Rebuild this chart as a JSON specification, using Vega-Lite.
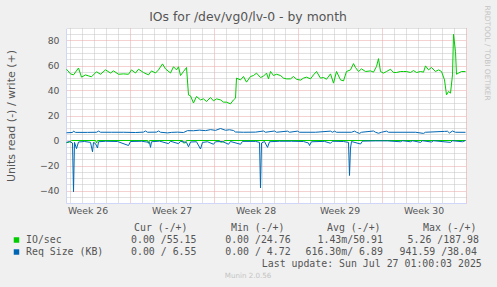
{
  "$schema": "https://vega.github.io/schema/vega-lite/v6.json",
  "width": 400,
  "height": 175,
  "autosize": {"type": "none"},
  "padding": {"left": 66, "top": 28, "right": 31, "bottom": 84},
  "background": "#F0F0F0",
  "view": {"fill": "#FFFFFF", "stroke": null},
  "title": {"text": "IOs for /dev/vg0/lv-0 - by month", "font": "DejaVu Sans", "fontSize": 12.4, "fontWeight": "normal", "color": "#555555", "anchor": "middle", "frame": "group", "dx": -18, "offset": -18},
  "config": {
    "axis": {"labelFont": "DejaVu Sans", "titleFont": "DejaVu Sans", "labelColor": "#555555", "titleColor": "#555555", "titleFontWeight": "normal", "labelFontSize": 9.3}
  },
  "datasets": {
    "io_w": [
      {"t": "2025-06-23T18:00:00Z", "v": 57}, {"t": "2025-06-24T02:00:00Z", "v": 53.3}, {"t": "2025-06-24T08:00:00Z", "v": 52.5}, {"t": "2025-06-24T18:00:00Z", "v": 58},
      {"t": "2025-06-25T00:00:00Z", "v": 50.7}, {"t": "2025-06-25T08:00:00Z", "v": 52.5}, {"t": "2025-06-25T14:00:00Z", "v": 51.7}, {"t": "2025-06-25T20:00:00Z", "v": 51},
      {"t": "2025-06-26T06:00:00Z", "v": 55}, {"t": "2025-06-26T14:00:00Z", "v": 53}, {"t": "2025-06-27T00:00:00Z", "v": 56.5}, {"t": "2025-06-27T10:00:00Z", "v": 54},
      {"t": "2025-06-27T16:00:00Z", "v": 55.7}, {"t": "2025-06-28T02:00:00Z", "v": 53}, {"t": "2025-06-28T12:00:00Z", "v": 53.3}, {"t": "2025-06-28T22:00:00Z", "v": 53},
      {"t": "2025-06-29T04:00:00Z", "v": 56.5}, {"t": "2025-06-29T12:00:00Z", "v": 54}, {"t": "2025-06-29T18:00:00Z", "v": 57}, {"t": "2025-06-30T04:00:00Z", "v": 54.4},
      {"t": "2025-06-30T14:00:00Z", "v": 52.5}, {"t": "2025-06-30T20:00:00Z", "v": 55.7}, {"t": "2025-07-01T04:00:00Z", "v": 54}, {"t": "2025-07-01T10:00:00Z", "v": 56.5},
      {"t": "2025-07-01T18:00:00Z", "v": 61.3}, {"t": "2025-07-02T00:00:00Z", "v": 57.3}, {"t": "2025-07-02T10:00:00Z", "v": 54}, {"t": "2025-07-02T16:00:00Z", "v": 59},
      {"t": "2025-07-02T22:00:00Z", "v": 56.5}, {"t": "2025-07-03T02:00:00Z", "v": 59}, {"t": "2025-07-03T06:00:00Z", "v": 52}, {"t": "2025-07-03T12:00:00Z", "v": 55.2},
      {"t": "2025-07-03T18:00:00Z", "v": 58.4}, {"t": "2025-07-03T22:00:00Z", "v": 36.5}, {"t": "2025-07-04T02:00:00Z", "v": 35.7}, {"t": "2025-07-04T08:00:00Z", "v": 30},
      {"t": "2025-07-04T14:00:00Z", "v": 35.2}, {"t": "2025-07-04T22:00:00Z", "v": 32.5}, {"t": "2025-07-05T04:00:00Z", "v": 33.3}, {"t": "2025-07-05T10:00:00Z", "v": 31.2},
      {"t": "2025-07-05T18:00:00Z", "v": 34.4}, {"t": "2025-07-06T00:00:00Z", "v": 31.7}, {"t": "2025-07-06T06:00:00Z", "v": 33.3}, {"t": "2025-07-06T14:00:00Z", "v": 32.5},
      {"t": "2025-07-06T20:00:00Z", "v": 30.7}, {"t": "2025-07-07T02:00:00Z", "v": 30.7}, {"t": "2025-07-07T10:00:00Z", "v": 29.3}, {"t": "2025-07-07T16:00:00Z", "v": 32.5},
      {"t": "2025-07-07T20:00:00Z", "v": 33.9}, {"t": "2025-07-07T22:00:00Z", "v": 49.9}, {"t": "2025-07-08T06:00:00Z", "v": 48.5}, {"t": "2025-07-08T12:00:00Z", "v": 51.2},
      {"t": "2025-07-08T18:00:00Z", "v": 46.7}, {"t": "2025-07-09T02:00:00Z", "v": 51.2}, {"t": "2025-07-09T08:00:00Z", "v": 52}, {"t": "2025-07-09T14:00:00Z", "v": 53.9},
      {"t": "2025-07-09T22:00:00Z", "v": 50.4}, {"t": "2025-07-10T04:00:00Z", "v": 51.5}, {"t": "2025-07-10T10:00:00Z", "v": 53.9}, {"t": "2025-07-10T14:00:00Z", "v": 49.3},
      {"t": "2025-07-10T18:00:00Z", "v": 55.2}, {"t": "2025-07-11T00:00:00Z", "v": 52}, {"t": "2025-07-11T06:00:00Z", "v": 53}, {"t": "2025-07-11T14:00:00Z", "v": 52},
      {"t": "2025-07-11T20:00:00Z", "v": 49.9}, {"t": "2025-07-12T02:00:00Z", "v": 49.3}, {"t": "2025-07-12T10:00:00Z", "v": 49.3}, {"t": "2025-07-12T16:00:00Z", "v": 51.2},
      {"t": "2025-07-12T22:00:00Z", "v": 49}, {"t": "2025-07-13T06:00:00Z", "v": 48.3}, {"t": "2025-07-13T12:00:00Z", "v": 49.9}, {"t": "2025-07-13T18:00:00Z", "v": 50.7},
      {"t": "2025-07-14T02:00:00Z", "v": 49.3}, {"t": "2025-07-14T08:00:00Z", "v": 52.5}, {"t": "2025-07-14T14:00:00Z", "v": 55.2}, {"t": "2025-07-14T22:00:00Z", "v": 49.9},
      {"t": "2025-07-15T04:00:00Z", "v": 50.4}, {"t": "2025-07-15T10:00:00Z", "v": 49}, {"t": "2025-07-15T18:00:00Z", "v": 53.3}, {"t": "2025-07-16T00:00:00Z", "v": 45.9},
      {"t": "2025-07-16T06:00:00Z", "v": 55.2}, {"t": "2025-07-16T14:00:00Z", "v": 48.5}, {"t": "2025-07-16T20:00:00Z", "v": 47.7}, {"t": "2025-07-17T02:00:00Z", "v": 55.2},
      {"t": "2025-07-17T10:00:00Z", "v": 56.5}, {"t": "2025-07-17T16:00:00Z", "v": 61.5}, {"t": "2025-07-17T20:00:00Z", "v": 58.4}, {"t": "2025-07-18T02:00:00Z", "v": 55.2},
      {"t": "2025-07-18T08:00:00Z", "v": 57.3}, {"t": "2025-07-18T16:00:00Z", "v": 55.2}, {"t": "2025-07-19T02:00:00Z", "v": 55.7}, {"t": "2025-07-19T08:00:00Z", "v": 54.7},
      {"t": "2025-07-19T14:00:00Z", "v": 59.2}, {"t": "2025-07-19T18:00:00Z", "v": 65.5}, {"t": "2025-07-19T22:00:00Z", "v": 55.2}, {"t": "2025-07-20T04:00:00Z", "v": 53.9},
      {"t": "2025-07-20T10:00:00Z", "v": 55.2}, {"t": "2025-07-20T18:00:00Z", "v": 57}, {"t": "2025-07-21T00:00:00Z", "v": 54.4}, {"t": "2025-07-21T06:00:00Z", "v": 54.4},
      {"t": "2025-07-21T14:00:00Z", "v": 55.2}, {"t": "2025-07-21T20:00:00Z", "v": 55.2}, {"t": "2025-07-22T02:00:00Z", "v": 55.2}, {"t": "2025-07-22T10:00:00Z", "v": 54.4},
      {"t": "2025-07-22T16:00:00Z", "v": 56}, {"t": "2025-07-22T22:00:00Z", "v": 54.4}, {"t": "2025-07-23T06:00:00Z", "v": 55.2}, {"t": "2025-07-23T12:00:00Z", "v": 54.7},
      {"t": "2025-07-23T16:00:00Z", "v": 59.7}, {"t": "2025-07-23T22:00:00Z", "v": 56.5}, {"t": "2025-07-24T04:00:00Z", "v": 58.4}, {"t": "2025-07-24T12:00:00Z", "v": 55.2},
      {"t": "2025-07-24T18:00:00Z", "v": 56.5}, {"t": "2025-07-25T00:00:00Z", "v": 55.2}, {"t": "2025-07-25T06:00:00Z", "v": 48.5}, {"t": "2025-07-25T10:00:00Z", "v": 36.5},
      {"t": "2025-07-25T14:00:00Z", "v": 39.2}, {"t": "2025-07-25T18:00:00Z", "v": 37.9}, {"t": "2025-07-25T22:00:00Z", "v": 52.5}, {"t": "2025-07-26T00:00:00Z", "v": 85},
      {"t": "2025-07-26T04:00:00Z", "v": 71}, {"t": "2025-07-26T06:00:00Z", "v": 53}, {"t": "2025-07-26T10:00:00Z", "v": 53.9}, {"t": "2025-07-26T16:00:00Z", "v": 55.2},
      {"t": "2025-07-27T00:00:00Z", "v": 55.15}
    ],
    "io_r": [
      {"t": "2025-06-23T18:00:00Z", "v": -1.8}, {"t": "2025-06-24T00:00:00Z", "v": -1.2}, {"t": "2025-06-24T04:00:00Z", "v": 0}, {"t": "2025-06-26T04:00:00Z", "v": 0},
      {"t": "2025-06-26T06:00:00Z", "v": -2}, {"t": "2025-06-26T08:00:00Z", "v": 0}, {"t": "2025-06-30T12:00:00Z", "v": 0}, {"t": "2025-06-30T14:00:00Z", "v": -2.3},
      {"t": "2025-06-30T16:00:00Z", "v": 0}, {"t": "2025-07-03T10:00:00Z", "v": 0}, {"t": "2025-07-03T12:00:00Z", "v": -2}, {"t": "2025-07-03T16:00:00Z", "v": -1.8},
      {"t": "2025-07-03T18:00:00Z", "v": 0}, {"t": "2025-07-06T12:00:00Z", "v": 0}, {"t": "2025-07-06T14:00:00Z", "v": -1.3}, {"t": "2025-07-06T20:00:00Z", "v": -1.2},
      {"t": "2025-07-06T22:00:00Z", "v": 0}, {"t": "2025-07-27T00:00:00Z", "v": 0}
    ],
    "req_w": [
      {"t": "2025-06-23T18:00:00Z", "v": 6.2}, {"t": "2025-06-24T06:00:00Z", "v": 6.4}, {"t": "2025-06-24T08:00:00Z", "v": 7.5}, {"t": "2025-06-24T12:00:00Z", "v": 6.5},
      {"t": "2025-06-25T12:00:00Z", "v": 6.5}, {"t": "2025-06-26T06:00:00Z", "v": 6.6}, {"t": "2025-06-26T10:00:00Z", "v": 7.5}, {"t": "2025-06-26T14:00:00Z", "v": 6.6},
      {"t": "2025-06-27T12:00:00Z", "v": 6.6}, {"t": "2025-06-28T12:00:00Z", "v": 6.6}, {"t": "2025-06-29T12:00:00Z", "v": 6.4}, {"t": "2025-06-30T04:00:00Z", "v": 6.7},
      {"t": "2025-06-30T08:00:00Z", "v": 7.6}, {"t": "2025-06-30T12:00:00Z", "v": 6.6}, {"t": "2025-07-01T06:00:00Z", "v": 6.7}, {"t": "2025-07-01T10:00:00Z", "v": 7.6},
      {"t": "2025-07-01T14:00:00Z", "v": 6.6}, {"t": "2025-07-02T04:00:00Z", "v": 6.1}, {"t": "2025-07-02T12:00:00Z", "v": 6.5}, {"t": "2025-07-03T00:00:00Z", "v": 6.7},
      {"t": "2025-07-03T12:00:00Z", "v": 6.4}, {"t": "2025-07-03T20:00:00Z", "v": 7.9}, {"t": "2025-07-04T08:00:00Z", "v": 7.8}, {"t": "2025-07-04T20:00:00Z", "v": 8.3},
      {"t": "2025-07-05T08:00:00Z", "v": 7.9}, {"t": "2025-07-05T18:00:00Z", "v": 8.7}, {"t": "2025-07-06T04:00:00Z", "v": 8.1}, {"t": "2025-07-06T14:00:00Z", "v": 9.6},
      {"t": "2025-07-07T00:00:00Z", "v": 8.2}, {"t": "2025-07-07T08:00:00Z", "v": 8.6}, {"t": "2025-07-07T16:00:00Z", "v": 8}, {"t": "2025-07-07T20:00:00Z", "v": 6.8},
      {"t": "2025-07-08T12:00:00Z", "v": 6.6}, {"t": "2025-07-09T12:00:00Z", "v": 6.7}, {"t": "2025-07-10T04:00:00Z", "v": 7.6}, {"t": "2025-07-10T08:00:00Z", "v": 6.6},
      {"t": "2025-07-11T02:00:00Z", "v": 7.6}, {"t": "2025-07-11T06:00:00Z", "v": 6.6}, {"t": "2025-07-12T04:00:00Z", "v": 7.5}, {"t": "2025-07-12T08:00:00Z", "v": 6.6},
      {"t": "2025-07-13T00:00:00Z", "v": 7.5}, {"t": "2025-07-13T04:00:00Z", "v": 6.6}, {"t": "2025-07-14T12:00:00Z", "v": 6.6}, {"t": "2025-07-15T18:00:00Z", "v": 7.5},
      {"t": "2025-07-15T22:00:00Z", "v": 6.6}, {"t": "2025-07-16T02:00:00Z", "v": 7.5}, {"t": "2025-07-16T06:00:00Z", "v": 6.6}, {"t": "2025-07-17T12:00:00Z", "v": 6.6},
      {"t": "2025-07-17T18:00:00Z", "v": 7.5}, {"t": "2025-07-17T22:00:00Z", "v": 6.6}, {"t": "2025-07-18T04:00:00Z", "v": 5.7}, {"t": "2025-07-18T08:00:00Z", "v": 6.6},
      {"t": "2025-07-19T08:00:00Z", "v": 7.6}, {"t": "2025-07-19T12:00:00Z", "v": 6.6}, {"t": "2025-07-19T18:00:00Z", "v": 5.8}, {"t": "2025-07-20T00:00:00Z", "v": 6.6},
      {"t": "2025-07-20T10:00:00Z", "v": 7.5}, {"t": "2025-07-20T14:00:00Z", "v": 6.6}, {"t": "2025-07-22T20:00:00Z", "v": 6.6}, {"t": "2025-07-23T12:00:00Z", "v": 5.7},
      {"t": "2025-07-23T16:00:00Z", "v": 6.6}, {"t": "2025-07-25T06:00:00Z", "v": 7.3}, {"t": "2025-07-25T12:00:00Z", "v": 7.4}, {"t": "2025-07-25T16:00:00Z", "v": 6},
      {"t": "2025-07-25T22:00:00Z", "v": 7.6}, {"t": "2025-07-26T04:00:00Z", "v": 6.6}, {"t": "2025-07-27T00:00:00Z", "v": 6.55}
    ],
    "req_r": [
      {"t": "2025-06-23T18:00:00Z", "v": -1.5}, {"t": "2025-06-24T00:00:00Z", "v": -0.8}, {"t": "2025-06-24T06:00:00Z", "v": -2}, {"t": "2025-06-24T08:00:00Z", "v": -41},
      {"t": "2025-06-24T10:00:00Z", "v": -1.5}, {"t": "2025-06-24T14:00:00Z", "v": -6.5}, {"t": "2025-06-24T18:00:00Z", "v": -1.2}, {"t": "2025-06-25T06:00:00Z", "v": -0.8},
      {"t": "2025-06-25T18:00:00Z", "v": -1.5}, {"t": "2025-06-25T22:00:00Z", "v": -9}, {"t": "2025-06-26T00:00:00Z", "v": -1.5}, {"t": "2025-06-26T04:00:00Z", "v": -2.5},
      {"t": "2025-06-26T08:00:00Z", "v": -6}, {"t": "2025-06-26T10:00:00Z", "v": -1}, {"t": "2025-06-27T00:00:00Z", "v": -0.6}, {"t": "2025-06-28T00:00:00Z", "v": -0.8},
      {"t": "2025-06-28T22:00:00Z", "v": -4}, {"t": "2025-06-29T02:00:00Z", "v": -0.8}, {"t": "2025-06-30T00:00:00Z", "v": -0.6}, {"t": "2025-06-30T16:00:00Z", "v": -1.5},
      {"t": "2025-06-30T18:00:00Z", "v": -5.5}, {"t": "2025-06-30T20:00:00Z", "v": -1}, {"t": "2025-07-01T12:00:00Z", "v": -0.5}, {"t": "2025-07-02T06:00:00Z", "v": -2.5},
      {"t": "2025-07-02T10:00:00Z", "v": -0.6}, {"t": "2025-07-03T02:00:00Z", "v": -2.5}, {"t": "2025-07-03T06:00:00Z", "v": -0.7}, {"t": "2025-07-03T18:00:00Z", "v": -1.5},
      {"t": "2025-07-03T22:00:00Z", "v": -5}, {"t": "2025-07-04T02:00:00Z", "v": -1.2}, {"t": "2025-07-04T14:00:00Z", "v": -1}, {"t": "2025-07-04T22:00:00Z", "v": -6.8},
      {"t": "2025-07-05T02:00:00Z", "v": -1.5}, {"t": "2025-07-05T12:00:00Z", "v": -1}, {"t": "2025-07-06T00:00:00Z", "v": -3}, {"t": "2025-07-06T04:00:00Z", "v": -1},
      {"t": "2025-07-06T18:00:00Z", "v": -0.8}, {"t": "2025-07-07T06:00:00Z", "v": -3}, {"t": "2025-07-07T10:00:00Z", "v": -0.8}, {"t": "2025-07-08T06:00:00Z", "v": -3},
      {"t": "2025-07-08T10:00:00Z", "v": -0.7}, {"t": "2025-07-09T12:00:00Z", "v": -0.7}, {"t": "2025-07-09T20:00:00Z", "v": -1.5}, {"t": "2025-07-09T22:00:00Z", "v": -38},
      {"t": "2025-07-10T00:00:00Z", "v": -2}, {"t": "2025-07-10T06:00:00Z", "v": -0.8}, {"t": "2025-07-10T12:00:00Z", "v": -5.5}, {"t": "2025-07-10T16:00:00Z", "v": -1},
      {"t": "2025-07-11T12:00:00Z", "v": -0.6}, {"t": "2025-07-12T12:00:00Z", "v": -0.6}, {"t": "2025-07-13T12:00:00Z", "v": -0.8}, {"t": "2025-07-13T22:00:00Z", "v": -2},
      {"t": "2025-07-14T00:00:00Z", "v": -4}, {"t": "2025-07-14T04:00:00Z", "v": -1}, {"t": "2025-07-15T06:00:00Z", "v": -0.7}, {"t": "2025-07-15T18:00:00Z", "v": -2.2},
      {"t": "2025-07-15T22:00:00Z", "v": -0.6}, {"t": "2025-07-16T20:00:00Z", "v": -0.8}, {"t": "2025-07-17T06:00:00Z", "v": -1.5}, {"t": "2025-07-17T08:00:00Z", "v": -28},
      {"t": "2025-07-17T10:00:00Z", "v": -6}, {"t": "2025-07-17T12:00:00Z", "v": -0.8}, {"t": "2025-07-18T06:00:00Z", "v": -2.8}, {"t": "2025-07-18T10:00:00Z", "v": -0.5},
      {"t": "2025-07-19T12:00:00Z", "v": -0.3}, {"t": "2025-07-20T12:00:00Z", "v": -0.3}, {"t": "2025-07-21T14:00:00Z", "v": -1}, {"t": "2025-07-21T18:00:00Z", "v": -0.2},
      {"t": "2025-07-22T10:00:00Z", "v": -1}, {"t": "2025-07-22T14:00:00Z", "v": -0.2}, {"t": "2025-07-23T06:00:00Z", "v": -1.5}, {"t": "2025-07-23T10:00:00Z", "v": -0.2},
      {"t": "2025-07-24T04:00:00Z", "v": -1.2}, {"t": "2025-07-24T08:00:00Z", "v": -0.2}, {"t": "2025-07-25T18:00:00Z", "v": -1.5}, {"t": "2025-07-25T22:00:00Z", "v": -0.2},
      {"t": "2025-07-26T18:00:00Z", "v": -1}, {"t": "2025-07-27T00:00:00Z", "v": 0}
    ],
    "swatches": [
      {"col": 2.77, "line": 20, "series": "IO/sec"},
      {"col": 2.77, "line": 21, "series": "Req Size (KB)"}
    ],
    "legend_text": [
      {"col": 22.52, "line": 19, "text": "Cur (-/+)"},
      {"col": 38.82, "line": 19, "text": "Min (-/+)"},
      {"col": 54.96, "line": 19, "text": "Avg (-/+)"},
      {"col": 71.09, "line": 19, "text": "Max (-/+)"},
      {"col": 4.37, "line": 20, "text": "IO/sec"},
      {"col": 22.02, "line": 20, "text": "0.00 /55.15"},
      {"col": 37.85, "line": 20, "text": "0.00 /24.76"},
      {"col": 53.36, "line": 20, "text": "1.43m/50.91"},
      {"col": 68.5, "line": 20, "text": "5.26 /187.98"},
      {"col": 4.37, "line": 21, "text": "Req Size (KB)"},
      {"col": 22.02, "line": 21, "text": "0.00 / 6.55"},
      {"col": 37.85, "line": 21, "text": "0.00 / 4.72"},
      {"col": 51.36, "line": 21, "text": "616.30m/ 6.89"},
      {"col": 67.16, "line": 21, "text": "941.59 /38.04"},
      {"col": 44.0, "line": 22, "text": "Last update: Sun Jul 27 01:00:03 2025"}
    ],
    "watermark": [
      {"col": 41.68, "line": 23, "text": "Munin 2.0.56"}
    ]
  },
  "layer": [
    {
      "layer": [
        {
          "data": {"name": "io_r"},
          "mark": {"type": "line", "color": "#00CC00", "strokeWidth": 1},
          "encoding": {
            "x": {"field": "t", "type": "temporal",
              "scale": {"type": "utc", "domain": [{"year": 2025, "month": 6, "date": 23, "hours": 17, "utc": true}, {"year": 2025, "month": 7, "date": 27, "hours": 1, "utc": true}]},
              "axis": {"orient": "top",
                "values": [{"year": 2025, "month": 6, "date": 24, "utc": true}, {"year": 2025, "month": 6, "date": 25, "utc": true}, {"year": 2025, "month": 6, "date": 26, "utc": true}, {"year": 2025, "month": 6, "date": 27, "utc": true}, {"year": 2025, "month": 6, "date": 28, "utc": true},
                  {"year": 2025, "month": 6, "date": 30, "utc": true}, {"year": 2025, "month": 7, "date": 1, "utc": true}, {"year": 2025, "month": 7, "date": 2, "utc": true}, {"year": 2025, "month": 7, "date": 3, "utc": true}, {"year": 2025, "month": 7, "date": 4, "utc": true}, {"year": 2025, "month": 7, "date": 5, "utc": true},
                  {"year": 2025, "month": 7, "date": 7, "utc": true}, {"year": 2025, "month": 7, "date": 8, "utc": true}, {"year": 2025, "month": 7, "date": 9, "utc": true}, {"year": 2025, "month": 7, "date": 10, "utc": true}, {"year": 2025, "month": 7, "date": 11, "utc": true}, {"year": 2025, "month": 7, "date": 12, "utc": true},
                  {"year": 2025, "month": 7, "date": 14, "utc": true}, {"year": 2025, "month": 7, "date": 15, "utc": true}, {"year": 2025, "month": 7, "date": 16, "utc": true}, {"year": 2025, "month": 7, "date": 17, "utc": true}, {"year": 2025, "month": 7, "date": 18, "utc": true}, {"year": 2025, "month": 7, "date": 19, "utc": true},
                  {"year": 2025, "month": 7, "date": 21, "utc": true}, {"year": 2025, "month": 7, "date": 22, "utc": true}, {"year": 2025, "month": 7, "date": 23, "utc": true}, {"year": 2025, "month": 7, "date": 24, "utc": true}, {"year": 2025, "month": 7, "date": 25, "utc": true}, {"year": 2025, "month": 7, "date": 26, "utc": true}],
                "grid": true, "gridColor": "#C2C2C2", "gridOpacity": 1, "gridDash": [1, 1], "gridWidth": 1, "labels": false, "ticks": false, "domain": false, "title": null}},
            "y": {"field": "v", "type": "quantitative",
              "scale": {"domain": [-50, 90], "nice": false, "zero": false},
              "axis": {"orient": "right", "values": [-45, -35, -30, -25, -15, -10, -5, 5, 10, 15, 25, 30, 35, 45, 50, 55, 65, 70, 75, 85, 90], "grid": true, "gridColor": "#C2C2C2", "gridOpacity": 1, "gridDash": [1, 1], "gridWidth": 1, "labels": false, "ticks": false, "domain": false,
                "title": "RRDTOOL / TOBI OETIKER", "titleAngle": 90, "titleFont": "DejaVu Sans", "titleFontSize": 7.4, "titleColor": "#C4C4C4", "titleX": 20, "titleY": -23, "titleAlign": "left", "titleBaseline": "middle"}}
          }
        },
        {
          "data": {"name": "io_w"},
          "mark": {"type": "line", "color": "#00CC00", "strokeWidth": 1},
          "encoding": {
            "x": {"field": "t", "type": "temporal",
              "scale": {"type": "utc", "domain": [{"year": 2025, "month": 6, "date": 23, "hours": 17, "utc": true}, {"year": 2025, "month": 7, "date": 27, "hours": 1, "utc": true}]},
              "axis": {"orient": "bottom",
                "values": [{"year": 2025, "month": 6, "date": 29, "utc": true}, {"year": 2025, "month": 7, "date": 6, "utc": true}, {"year": 2025, "month": 7, "date": 13, "utc": true}, {"year": 2025, "month": 7, "date": 20, "utc": true}, {"year": 2025, "month": 7, "date": 27, "utc": true}],
                "grid": true, "gridColor": "#EBA5A5", "gridOpacity": 1, "gridDash": [1, 1], "gridWidth": 1, "ticks": false, "domain": true, "domainColor": "#CFD6F8", "domainWidth": 1,
                "labelExpr": "'Week ' + utcFormat(datum.value, '%U')", "labelOffset": -42, "labelPadding": 3, "labelFlush": false, "labelOverlap": false, "labelBound": false, "title": null}},
            "y": {"field": "v", "type": "quantitative",
              "scale": {"domain": [-50, 90], "nice": false, "zero": false},
              "axis": {"orient": "left", "values": [-40, -20, 0, 20, 40, 60, 80], "grid": true, "gridColor": "#EBA5A5", "gridOpacity": 1, "gridDash": [1, 1], "gridWidth": 1, "ticks": false, "domain": true, "domainColor": "#CFD6F8", "domainWidth": 1,
                "labelPadding": 7, "title": "Units read (-) / write (+)", "titleFontSize": 11, "titleX": -55, "titleBaseline": "middle"}}
          }
        },
        {
          "data": {"name": "req_r"},
          "mark": {"type": "line", "color": "#0066B3", "strokeWidth": 1},
          "encoding": {
            "x": {"field": "t", "type": "temporal", "axis": null,
              "scale": {"type": "utc", "domain": [{"year": 2025, "month": 6, "date": 23, "hours": 17, "utc": true}, {"year": 2025, "month": 7, "date": 27, "hours": 1, "utc": true}]}},
            "y": {"field": "v", "type": "quantitative", "axis": null, "scale": {"domain": [-50, 90], "nice": false, "zero": false}}
          }
        },
        {
          "data": {"name": "req_w"},
          "mark": {"type": "line", "color": "#0066B3", "strokeWidth": 1},
          "encoding": {
            "x": {"field": "t", "type": "temporal", "axis": null,
              "scale": {"type": "utc", "domain": [{"year": 2025, "month": 6, "date": 23, "hours": 17, "utc": true}, {"year": 2025, "month": 7, "date": 27, "hours": 1, "utc": true}]}},
            "y": {"field": "v", "type": "quantitative", "axis": null, "scale": {"domain": [-50, 90], "nice": false, "zero": false}}
          }
        },
        {
          "mark": {"type": "rule", "color": "#000000", "strokeWidth": 1},
          "encoding": {
            "y": {"datum": 0, "type": "quantitative", "axis": null, "scale": {"domain": [-50, 90], "nice": false, "zero": false}}
          }
        },
        {
          "mark": {"type": "point", "shape": "triangle-up", "filled": true, "color": "#CFD6F8", "size": 22, "opacity": 1},
          "encoding": {
            "x": {"datum": {"year": 2025, "month": 6, "date": 23, "hours": 17, "utc": true}, "type": "temporal", "axis": null,
              "scale": {"type": "utc", "domain": [{"year": 2025, "month": 6, "date": 23, "hours": 17, "utc": true}, {"year": 2025, "month": 7, "date": 27, "hours": 1, "utc": true}]}},
            "y": {"datum": 93.5, "type": "quantitative", "axis": null, "scale": {"domain": [-50, 90], "nice": false, "zero": false}}
          }
        },
        {
          "mark": {"type": "point", "shape": "triangle-right", "filled": true, "color": "#CFD6F8", "size": 22, "opacity": 1},
          "encoding": {
            "x": {"datum": {"year": 2025, "month": 7, "date": 27, "hours": 9, "utc": true}, "type": "temporal", "axis": null,
              "scale": {"type": "utc", "domain": [{"year": 2025, "month": 6, "date": 23, "hours": 17, "utc": true}, {"year": 2025, "month": 7, "date": 27, "hours": 1, "utc": true}]}},
            "y": {"datum": -50, "type": "quantitative", "axis": null, "scale": {"domain": [-50, 90], "nice": false, "zero": false}}
          }
        }
      ],
      "resolve": {"axis": {"x": "independent", "y": "independent"}}
    },
    {
      "layer": [
        {
          "data": {"name": "swatches"},
          "mark": {"type": "point", "shape": "square", "filled": true, "size": 30, "opacity": 1},
          "encoding": {
            "x": {"field": "col", "type": "quantitative", "axis": null, "scale": {"domain": [11.0924, 78.3193], "nice": false, "zero": false}},
            "y": {"field": "line", "type": "quantitative", "axis": null, "scale": {"domain": [2.3333, 16.9167], "nice": false, "zero": false, "reverse": true}},
            "color": {"field": "series", "type": "nominal", "legend": null, "scale": {"domain": ["IO/sec", "Req Size (KB)"], "range": ["#00CC00", "#0066B3"]}}
          }
        },
        {
          "data": {"name": "legend_text"},
          "mark": {"type": "text", "font": "DejaVu Sans Mono", "fontSize": 9.88, "color": "#555555", "align": "left", "baseline": "middle"},
          "encoding": {
            "x": {"field": "col", "type": "quantitative", "axis": null, "scale": {"domain": [11.0924, 78.3193], "nice": false, "zero": false}},
            "y": {"field": "line", "type": "quantitative", "axis": null, "scale": {"domain": [2.3333, 16.9167], "nice": false, "zero": false, "reverse": true}},
            "text": {"field": "text"}
          }
        },
        {
          "data": {"name": "watermark"},
          "mark": {"type": "text", "font": "DejaVu Sans", "fontSize": 7.1, "color": "#C4C4C4", "align": "center", "baseline": "middle"},
          "encoding": {
            "x": {"field": "col", "type": "quantitative", "axis": null, "scale": {"domain": [11.0924, 78.3193], "nice": false, "zero": false}},
            "y": {"field": "line", "type": "quantitative", "axis": null, "scale": {"domain": [2.3333, 16.9167], "nice": false, "zero": false, "reverse": true}},
            "text": {"field": "text"}
          }
        }
      ]
    }
  ],
  "resolve": {"scale": {"x": "independent", "y": "independent"}, "axis": {"x": "independent", "y": "independent"}}
}
